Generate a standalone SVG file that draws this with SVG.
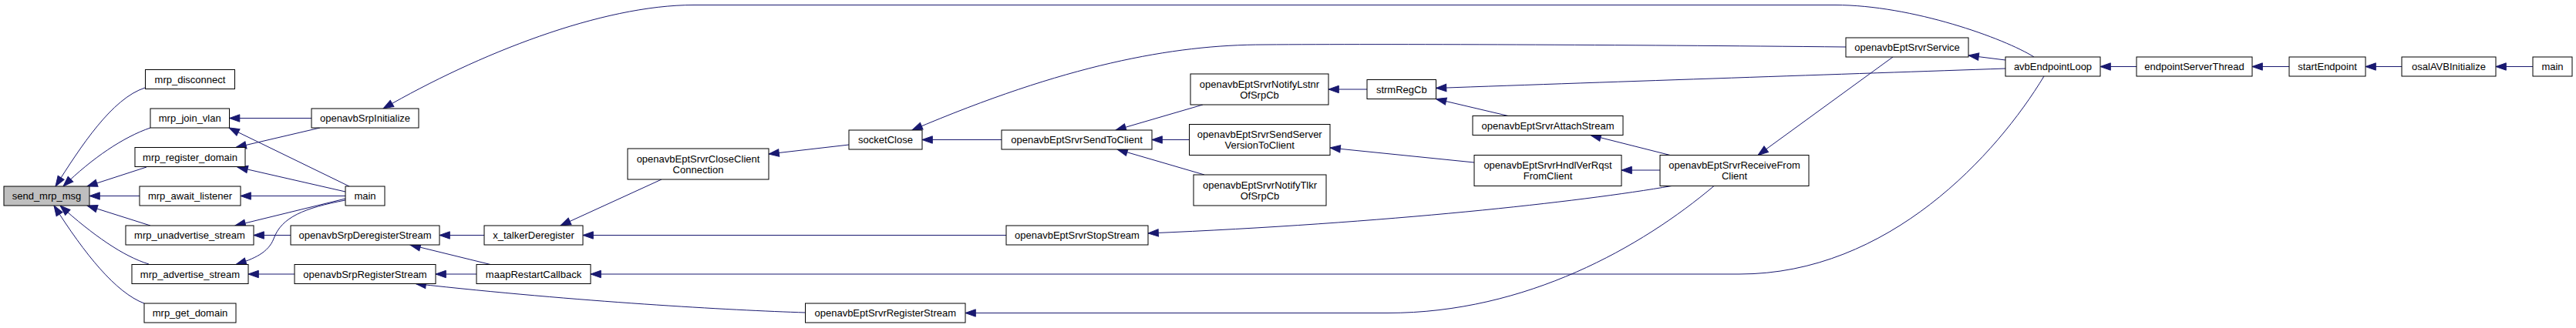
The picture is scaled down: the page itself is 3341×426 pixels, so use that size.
<svg xmlns="http://www.w3.org/2000/svg" width="3341" height="426" viewBox="0 0 3341 426">
<style>
.node rect{fill:#fff;stroke:#000;stroke-width:1}
.node text{font-family:"Liberation Sans",Arial,Helvetica,sans-serif;font-size:13px;text-anchor:middle;fill:#000}
.edges path{fill:none;stroke:#191970;stroke-width:1;marker-end:url(#arr)}
</style>
<defs>
<marker id="arr" markerUnits="userSpaceOnUse" viewBox="0 0 14 10" markerWidth="14" markerHeight="10" refX="13.3" refY="5" orient="auto" overflow="visible">
<path d="M0,0.3 L13.3,5 L0,9.7 z" fill="#191970" stroke="#191970" stroke-width="1"/>
</marker>
</defs>
<rect width="3341" height="426" fill="#fff"/>
<g class="edges" id="edges">
<path d="M188,114 C145,128 105,190 72,242"/>
<path d="M195,166 C160,178 120,205 82,242"/>
<path d="M190,217 L113,242"/>
<path d="M181,254.5 L116,254.5"/>
<path d="M195,293 L113,267"/>
<path d="M193,343 C160,333 120,305 78,267"/>
<path d="M187,394 C150,380 110,330 70,267"/>
<path d="M404,153.5 L297.5,153.5"/>
<path d="M453,242 L297,166"/>
<path d="M415,166 L306,191.5"/>
<path d="M448,249 L308,217"/>
<path d="M448,254.5 L312,254.5"/>
<path d="M448,258 L305,293"/>
<path d="M377,305.5 L329,305.5"/>
<path d="M448,260 C395,270 365,282 355,310 C348,328 330,336 306,343.5"/>
<path d="M382,356 L322,356"/>
<path d="M2638,74 C2600,50 2480,6.5 2380,6.5 L900,6.5 C780,6.5 620,70 497,141"/>
<path d="M628,305.5 L570,305.5"/>
<path d="M636,343.5 L532,318"/>
<path d="M618,356 L565,356"/>
<path d="M1044.5,406 C950,403 750,392 539,368.5"/>
<path d="M858,233 L727,293"/>
<path d="M1305,305.5 L756,305.5"/>
<path d="M2651,99 C2590,200 2450,356 2256,356 L766,356"/>
<path d="M1101,188 L997,200"/>
<path d="M1299,181.5 L1196,181.5"/>
<path d="M2394,61 C2100,58 1800,57 1640,58 C1520,58 1380,85 1183,169"/>
<path d="M1560,136 L1447,169"/>
<path d="M1542.5,181.5 L1494,181.5"/>
<path d="M1562,227 L1449,194"/>
<path d="M1773,116 L1723,116"/>
<path d="M1912,211 L1725,192"/>
<path d="M2601,89 C2400,96 2100,106 1862.5,114.5"/>
<path d="M1956,150.5 L1862.5,128.5"/>
<path d="M2166,201.5 L2063,175.5"/>
<path d="M2153,221 L2103,221"/>
<path d="M2168,241.5 C2050,262 1800,290 1489,303"/>
<path d="M2455,74 L2280,201.5"/>
<path d="M2601,78 L2553,72"/>
<path d="M2223,241.5 C2130,320 1980,406.5 1800,406.5 L1252,406.5"/>
<path d="M2771,86.5 L2724,86.5"/>
<path d="M2969,86.5 L2921,86.5"/>
<path d="M3115,86.5 L3068,86.5"/>
<path d="M3285,86.5 L3237,86.5"/>
</g>
<g class="node" id="send_mrp_msg"><rect x="5" y="242" width="111" height="25" style="fill:#bfbfbf"/><text x="60.5" y="259">send_mrp_msg</text></g>
<g class="node" id="mrp_disconnect"><rect x="188.5" y="90.5" width="116" height="25"/><text x="246.5" y="107.5">mrp_disconnect</text></g>
<g class="node" id="mrp_join_vlan"><rect x="195" y="141" width="102.5" height="25"/><text x="246.25" y="158">mrp_join_vlan</text></g>
<g class="node" id="mrp_register_domain"><rect x="175" y="191.5" width="143" height="25"/><text x="246.5" y="208.5">mrp_register_domain</text></g>
<g class="node" id="mrp_await_listener"><rect x="181" y="242" width="131" height="25"/><text x="246.5" y="259">mrp_await_listener</text></g>
<g class="node" id="mrp_unadvertise_stream"><rect x="163" y="293" width="166" height="25"/><text x="246" y="310">mrp_unadvertise_stream</text></g>
<g class="node" id="mrp_advertise_stream"><rect x="171" y="343.5" width="151" height="25"/><text x="246.5" y="360.5">mrp_advertise_stream</text></g>
<g class="node" id="mrp_get_domain"><rect x="187" y="394" width="119" height="25"/><text x="246.5" y="411">mrp_get_domain</text></g>
<g class="node" id="openavbSrpInitialize"><rect x="404" y="141" width="139" height="25"/><text x="473.5" y="158">openavbSrpInitialize</text></g>
<g class="node" id="main_left"><rect x="448" y="242" width="51" height="25"/><text x="473.5" y="259">main</text></g>
<g class="node" id="openavbSrpDeregisterStream"><rect x="377" y="293" width="193" height="25"/><text x="473.5" y="310">openavbSrpDeregisterStream</text></g>
<g class="node" id="openavbSrpRegisterStream"><rect x="382" y="343.5" width="183" height="25"/><text x="473.5" y="360.5">openavbSrpRegisterStream</text></g>
<g class="node" id="x_talkerDeregister"><rect x="628" y="293" width="128" height="25"/><text x="692" y="310">x_talkerDeregister</text></g>
<g class="node" id="maapRestartCallback"><rect x="618" y="343.5" width="148" height="25"/><text x="692" y="360.5">maapRestartCallback</text></g>
<g class="node" id="openavbEptSrvrCloseClientConnection"><rect x="814" y="193" width="183" height="40"/><text x="905.5" y="210.8">openavbEptSrvrCloseClient</text><text x="905.5" y="224.5">Connection</text></g>
<g class="node" id="socketClose"><rect x="1101" y="169" width="95" height="25"/><text x="1148.5" y="186">socketClose</text></g>
<g class="node" id="openavbEptSrvrRegisterStream"><rect x="1044.5" y="394" width="207.5" height="25"/><text x="1148.25" y="411">openavbEptSrvrRegisterStream</text></g>
<g class="node" id="openavbEptSrvrSendToClient"><rect x="1299" y="169" width="195" height="25"/><text x="1396.5" y="186">openavbEptSrvrSendToClient</text></g>
<g class="node" id="openavbEptSrvrStopStream"><rect x="1305" y="293" width="184" height="25"/><text x="1397" y="310">openavbEptSrvrStopStream</text></g>
<g class="node" id="openavbEptSrvrNotifyLstnrOfSrpCb"><rect x="1544" y="96" width="179" height="40"/><text x="1633.5" y="113.8">openavbEptSrvrNotifyLstnr</text><text x="1633.5" y="127.5">OfSrpCb</text></g>
<g class="node" id="openavbEptSrvrSendServerVersionToClient"><rect x="1542.5" y="161.5" width="182.5" height="40"/><text x="1633.75" y="179.3">openavbEptSrvrSendServer</text><text x="1633.75" y="193">VersionToClient</text></g>
<g class="node" id="openavbEptSrvrNotifyTlkrOfSrpCb"><rect x="1548" y="227" width="172" height="40"/><text x="1634" y="244.8">openavbEptSrvrNotifyTlkr</text><text x="1634" y="258.5">OfSrpCb</text></g>
<g class="node" id="strmRegCb"><rect x="1773" y="103.5" width="89.5" height="25"/><text x="1817.75" y="120.5">strmRegCb</text></g>
<g class="node" id="openavbEptSrvrAttachStream"><rect x="1910" y="150.5" width="195" height="25"/><text x="2007.5" y="167.5">openavbEptSrvrAttachStream</text></g>
<g class="node" id="openavbEptSrvrHndlVerRqstFromClient"><rect x="1912" y="201.5" width="191" height="40"/><text x="2007.5" y="219.3">openavbEptSrvrHndlVerRqst</text><text x="2007.5" y="233">FromClient</text></g>
<g class="node" id="openavbEptSrvrReceiveFromClient"><rect x="2153" y="201.5" width="193" height="40"/><text x="2249.5" y="219.3">openavbEptSrvrReceiveFrom</text><text x="2249.5" y="233">Client</text></g>
<g class="node" id="openavbEptSrvrService"><rect x="2394" y="49" width="159" height="25"/><text x="2473.5" y="66">openavbEptSrvrService</text></g>
<g class="node" id="avbEndpointLoop"><rect x="2601" y="74" width="123" height="25"/><text x="2662.5" y="91">avbEndpointLoop</text></g>
<g class="node" id="endpointServerThread"><rect x="2771" y="74" width="150" height="25"/><text x="2846" y="91">endpointServerThread</text></g>
<g class="node" id="startEndpoint"><rect x="2969" y="74" width="99" height="25"/><text x="3018.5" y="91">startEndpoint</text></g>
<g class="node" id="osalAVBInitialize"><rect x="3115" y="74" width="122" height="25"/><text x="3176" y="91">osalAVBInitialize</text></g>
<g class="node" id="main_right"><rect x="3285" y="74" width="51" height="25"/><text x="3310.5" y="91">main</text></g>
</svg>
